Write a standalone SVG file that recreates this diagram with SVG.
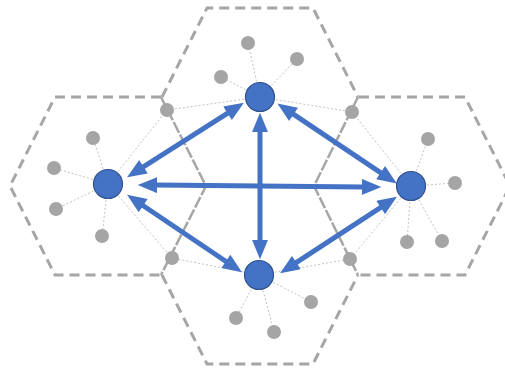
<svg xmlns="http://www.w3.org/2000/svg" width="505" height="369" viewBox="0 0 505 369">
<style>
.hex{fill:none;stroke:#a6a6a6;stroke-width:3;stroke-dasharray:10 6}
.shared{fill:none;stroke:#a6a6a6;stroke-width:2.5;stroke-dasharray:12 2}
.lnk{stroke:#c3c3c3;stroke-width:1;stroke-dasharray:2 2;fill:none}
.dot{fill:#a5a5a5}
.node{fill:#4472c4;stroke:#2f528f;stroke-width:1.2}
.arr{stroke:#4472c4;stroke-width:5;fill:none;marker-start:url(#ah);marker-end:url(#ah)}
</style>
<defs>
<marker id="ah" markerUnits="userSpaceOnUse" markerWidth="20" markerHeight="16" refX="1" refY="7" orient="auto-start-reverse" viewBox="0 0 17 14">
<path d="M0,0 L17,7 L0,14 z" fill="#4472c4"/>
</marker>
</defs>
<g id="cells">
<polyline class="hex" points="161,97 55,97 10,186 55,275 161,275"/>
<polyline class="hex" points="162,97 207,8 313,8 358,97"/>
<polyline class="hex" points="359,97 465,97 510,186 465,275 359,275"/>
<polyline class="hex" points="162,275 207,364 313,364 358,275"/>
<polyline class="shared" points="161,97 206,186 161,275"/>
<polyline class="shared" points="358,97 314,186 358,275"/>
<line class="shared" x1="207" y1="186" x2="313" y2="186"/>
</g>
<g id="links">
<path class="lnk" d="M260,97 L248,43 M260,97 L297,59 M260,97 L221,77 M260,97 L167,110 M260,97 L352,112"/>
<path class="lnk" d="M108,184 L93,138 M108,184 L54,168 M108,184 L56,209 M108,184 L102,236 M108,184 L167,110 M108,184 L172,258"/>
<path class="lnk" d="M411,186 L428,139 M411,186 L455,183 M411,186 L407,242 M411,186 L442,241 M411,186 L352,112 M411,186 L350,259"/>
<path class="lnk" d="M259,275 L236,318 M259,275 L274,332 M259,275 L311,302 M259,275 L172,258 M259,275 L350,259"/>
</g>
<g id="devices">
<circle class="dot" cx="248" cy="43" r="7"/>
<circle class="dot" cx="297" cy="59" r="7"/>
<circle class="dot" cx="221" cy="77" r="7"/>
<circle class="dot" cx="167" cy="110" r="7"/>
<circle class="dot" cx="352" cy="112" r="7"/>
<circle class="dot" cx="93" cy="138" r="7"/>
<circle class="dot" cx="54" cy="168" r="7"/>
<circle class="dot" cx="56" cy="209" r="7"/>
<circle class="dot" cx="102" cy="236" r="7"/>
<circle class="dot" cx="172" cy="258" r="7"/>
<circle class="dot" cx="350" cy="259" r="7"/>
<circle class="dot" cx="428" cy="139" r="7"/>
<circle class="dot" cx="455" cy="183" r="7"/>
<circle class="dot" cx="407" cy="242" r="7"/>
<circle class="dot" cx="442" cy="241" r="7"/>
<circle class="dot" cx="236" cy="318" r="7"/>
<circle class="dot" cx="274" cy="332" r="7"/>
<circle class="dot" cx="311" cy="302" r="7"/>
</g>
<g id="connectors">
<line class="arr" x1="228.5" y1="112.6" x2="142.5" y2="167.4"/>
<line class="arr" x1="260" y1="131" x2="260" y2="241"/>
<line class="arr" x1="292.6" y1="113.7" x2="381.6" y2="173.3"/>
<line class="arr" x1="156" y1="185.1" x2="363" y2="186.9"/>
<line class="arr" x1="142.2" y1="205" x2="226.8" y2="262"/>
<line class="arr" x1="381.6" y1="206.8" x2="295.4" y2="263.2"/>
</g>
<g id="node-top"><circle class="node" cx="260" cy="97" r="14.5"/></g>
<g id="node-left"><circle class="node" cx="108" cy="184" r="14.5"/></g>
<g id="node-right"><circle class="node" cx="411" cy="186" r="14.5"/></g>
<g id="node-bottom"><circle class="node" cx="259" cy="275" r="14.5"/></g>
</svg>
